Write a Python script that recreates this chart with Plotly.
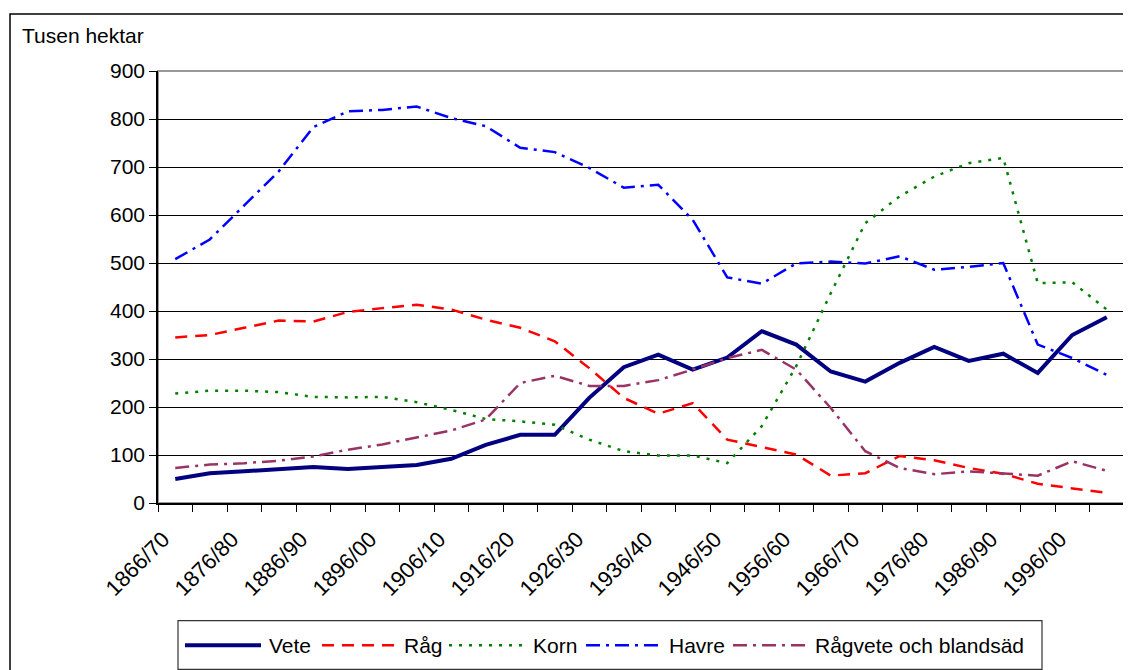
import plotly.graph_objects as go

# 5-year periods, 1866/70 .. 2001/05
periods = ["1866/70", "1871/75", "1876/80", "1881/85", "1886/90", "1891/95", "1896/00",
           "1901/05", "1906/10", "1911/15", "1916/20", "1921/25", "1926/30", "1931/35",
           "1936/40", "1941/45", "1946/50", "1951/55", "1956/60", "1961/65", "1966/70",
           "1971/75", "1976/80", "1981/85", "1986/90", "1991/95", "1996/00", "2001/05"]

vete = [50, 62, 66, 71, 75, 71, 75, 79, 92, 121, 142, 142, 219, 283,
        309, 278, 303, 358, 330, 274, 253, 292, 325, 296, 311, 271, 350, 387]
rag = [345, 350, 365, 380, 378, 398, 406, 413, 403, 382, 365, 337, 281, 219,
       186, 208, 132, 116, 101, 57, 62, 98, 89, 73, 61, 40, 30, 21]
korn = [228, 234, 234, 231, 221, 220, 221, 210, 194, 175, 170, 163, 132, 108,
        99, 99, 83, 160, 285, 437, 583, 639, 680, 708, 719, 458, 460, 403]
havre = [508, 549, 620, 691, 783, 816, 819, 826, 802, 785, 740, 731, 698, 657,
         663, 590, 470, 457, 499, 503, 499, 514, 486, 492, 500, 330, 302, 267]
ragvete = [73, 80, 83, 88, 97, 111, 122, 137, 151, 174, 250, 265, 244, 244,
           256, 278, 302, 319, 278, 198, 108, 73, 60, 66, 62, 57, 87, 67]

shown_labels = periods[::2]

DASHDOT = "14px,6px,3px,6px"
series = [
    ("Vete", vete, "#000080", 4, "solid"),
    ("Råg", rag, "#FF0000", 2.5, "12px,8px"),
    ("Korn", korn, "#008000", 2.5, "3px,7px"),
    ("Havre", havre, "#0000FF", 2.5, DASHDOT),
    ("Rågvete och blandsäd", ragvete, "#993366", 2.5, DASHDOT),
]

x = list(range(len(periods)))
FONT = "Liberation Sans, Arial, sans-serif"
FS = 21

fig = go.Figure()
for name, vals, color, width, dash in series:
    fig.add_trace(go.Scatter(
        x=x, y=vals, name=name, mode="lines",
        line=dict(color=color, width=width, dash=dash),
        customdata=periods, showlegend=False,
        hovertemplate="%{customdata}<br>" + name + ": %{y}<extra></extra>",
    ))

fig.update_xaxes(
    range=[-0.5, len(periods) - 0.5], automargin=False,
    tickmode="array", tickvals=x[::2], ticktext=shown_labels,
    tickangle=-45, ticks="", showgrid=False, zeroline=False,
    ticklabelstandoff=13, ticklabelshift=-12,
    showline=True, linecolor="black", linewidth=1.5,
    tickfont=dict(size=22, color="black"),
    minor=dict(ticks="outside", tick0=-0.5, dtick=1, ticklen=7,
               tickcolor="black", tickwidth=1, showgrid=False),
)
fig.update_yaxes(
    range=[0, 900], dtick=100, ticks="outside", ticklen=7, tickcolor="black",
    showgrid=True, gridcolor="black", gridwidth=1, zeroline=False, automargin=False,
    showline=True, linecolor="black", linewidth=1.5,
    tickfont=dict(size=FS, color="black"),
)

# hand-drawn legend (Excel style: long line samples, boxed)
leg_y = -0.329
leg_items = [(185, 261, 267), (322, 395, 402), (449, 525, 531),
             (586, 661, 667), (733, 805, 813)]
px = lambda v: (v - 158) / 966

shapes = [
    # grey plot-area frame
    dict(type="rect", xref="paper", yref="paper", x0=0, y0=0, x1=1, y1=1,
         line=dict(color="#999999", width=2), layer="below"),
    # outer chart frame
    dict(type="rect", xref="paper", yref="paper", x0=-0.1532, y0=-0.42,
         x1=1.03, y1=1.132, line=dict(color="black", width=1.5)),
    # legend box
    dict(type="rect", xref="paper", yref="paper", x0=px(178), x1=px(1042),
         y0=-0.385, y1=-0.2725, line=dict(color="#333333", width=1.2)),
]
annotations = [dict(text="Tusen hektar", xref="paper", yref="paper",
                    x=-0.143, y=1.083, xanchor="left", yanchor="middle",
                    showarrow=False, font=dict(size=FS))]
for (name, vals, color, width, dash), (l0, l1, tx) in zip(series, leg_items):
    shapes.append(dict(type="line", xref="paper", yref="paper",
                       x0=px(l0), x1=px(l1), y0=leg_y, y1=leg_y,
                       line=dict(color=color, width=width, dash=dash)))
    annotations.append(dict(text=name, xref="paper", yref="paper",
                            x=px(tx), y=leg_y, xanchor="left", yanchor="middle",
                            showarrow=False, font=dict(size=FS)))

fig.update_layout(
    width=1123, height=662,
    margin=dict(l=150, r=7, t=63, b=167),
    plot_bgcolor="white", paper_bgcolor="white",
    font=dict(family=FONT, size=FS, color="black"),
    showlegend=False,
    annotations=annotations,
    shapes=shapes,
)

fig.write_html("out.html")
